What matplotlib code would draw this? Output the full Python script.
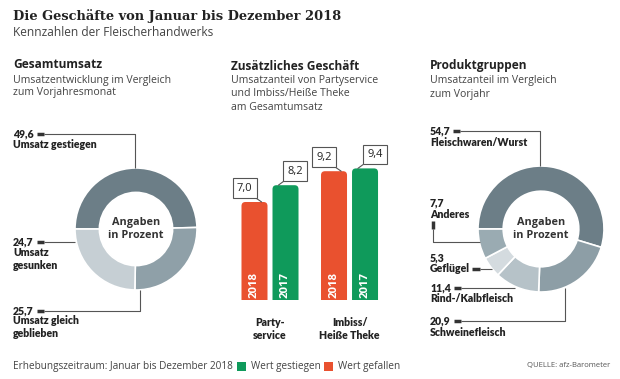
import matplotlib
matplotlib.use("Agg")
import matplotlib.pyplot as plt
from matplotlib.patches import FancyBboxPatch, Rectangle
from matplotlib.lines import Line2D
import numpy as np

# Gesamtumsatz (Donut links)
umsatz_labels = ["Umsatz gestiegen", "Umsatz gleich\ngeblieben", "Umsatz\ngesunken"]
umsatz_values = [49.6, 25.7, 24.7]

# Zusätzliches Geschäft (Balken)
geschaeft_kategorien = ["Party-\nservice", "Imbiss/\nHeiße Theke"]
werte_2018 = [7.0, 9.2]
werte_2017 = [8.2, 9.4]

# Produktgruppen (Donut rechts)
produkt_labels = ["Fleischwaren/Wurst", "Schweinefleisch", "Rind-/Kalbfleisch", "Geflügel", "Anderes"]
produkt_values = [54.7, 20.9, 11.4, 5.3, 7.7]

RED = "#e9512f"
GREEN = "#0f9a5b"
DARK = "#222222"
GREY_TXT = "#444444"
LINE = "#555555"

W, H = 620, 379
SANS = "Open Sans"
LBL = "Lato"

fig = plt.figure(figsize=(W / 100, H / 100), dpi=100)
fig.patch.set_facecolor("white")


def fx(x):
    return x / W


def fy(y):
    return 1 - y / H


def txt(x, y, s, size=7, bold=False, color=DARK, ha="left", family=SANS, weight=None, **kw):
    fig.text(fx(x), fy(y), s, fontsize=size,
             fontweight=weight or ("bold" if bold else "normal"),
             color=color, ha=ha, va="center", family=family, **kw)


def lbl(x, y, s, **kw):
    txt(x, y, s, size=7.6, weight="heavy", family=LBL, **kw)


def line(xs, ys, lw=0.8, color=LINE):
    fig.add_artist(Line2D([fx(v) for v in xs], [fy(v) for v in ys], lw=lw, color=color,
                          solid_capstyle="butt"))


def fmt(v):
    return ("%.1f" % v).replace(".", ",")


# Titel
txt(13, 16, "Die Geschäfte von Januar bis Dezember 2018", size=9.4, bold=True, family="DejaVu Serif")
txt(13, 33, "Kennzahlen der Fleischerhandwerks", size=8.6, color=GREY_TXT)

# Abschnittsköpfe
txt(13, 65, "Gesamtumsatz", size=8.6, bold=True)
txt(13, 80, "Umsatzentwicklung im Vergleich", size=7.6, color=GREY_TXT)
txt(13, 93, "zum Vorjahresmonat", size=7.6, color=GREY_TXT)

txt(231, 66, "Zusätzliches Geschäft", size=8.6, bold=True)
txt(231, 81, "Umsatzanteil von Partyservice", size=7.6, color=GREY_TXT)
txt(231, 94, "und Imbiss/Heiße Theke", size=7.6, color=GREY_TXT)
txt(231, 107, "am Gesamtumsatz", size=7.6, color=GREY_TXT)

txt(430, 66, "Produktgruppen", size=8.6, bold=True)
txt(430, 81, "Umsatzanteil im Vergleich", size=7.6, color=GREY_TXT)
txt(430, 94, "zum Vorjahr", size=7.6, color=GREY_TXT)


def donut(cx, cy, r, values, colors):
    ax = fig.add_axes([fx(cx - r), fy(cy + r), 2 * r / W, 2 * r / H])
    ax.pie(values, colors=colors, startangle=180, counterclock=False,
           wedgeprops=dict(width=0.4, edgecolor="white", linewidth=1.2))
    ax.set_xlim(-1, 1)
    ax.set_ylim(-1, 1)
    ax.set_aspect("equal")
    ax.axis("off")
    ax.text(0, 0, "Angaben\nin Prozent", ha="center", va="center", fontsize=7.8,
            fontweight="bold", color="#333333", family=SANS, linespacing=1.3)


# Donut links
donut(136, 229, 61, umsatz_values, ["#6c7e87", "#8fa0a8", "#c6cfd4"])

lbl(13, 134, fmt(umsatz_values[0]))
line([37, 44], [134, 134], lw=2.5, color="#333333")
line([44, 135, 135], [134, 134, 168])
lbl(13, 145, umsatz_labels[0])

lbl(13, 242, fmt(umsatz_values[2]))
line([37, 44], [242, 242], lw=2.5, color="#333333")
line([44, 75], [242, 242])
lbl(13, 259, umsatz_labels[2], linespacing=1.2)

lbl(13, 311, fmt(umsatz_values[1]))
line([37, 44], [311, 311], lw=2.5, color="#333333")
line([44, 140, 140], [311, 311, 290])
lbl(13, 327, umsatz_labels[1], linespacing=1.2)

# Balken Mitte
bx = fig.add_axes([fx(230), fy(300), 160 / W, 140 / H])
x = np.arange(len(geschaeft_kategorien))
off, bw = 0.195, 0.327
bx.set_xlim(-0.503, 1.509)
bx.set_ylim(0, 10)
bx.axis("off")
asp = (1 / 14) / (1 / 79.5)
for xi, v18, v17 in zip(x, werte_2018, werte_2017):
    for pos, v, c, yr, side in [(xi - off, v18, RED, "2018", -1), (xi + off, v17, GREEN, "2017", 1)]:
        p = FancyBboxPatch((pos - bw / 2, -1), bw, v + 1,
                           boxstyle="round,pad=0,rounding_size=0.05", mutation_aspect=asp,
                           fc=c, ec="none", clip_on=True)
        bx.add_patch(p)
        bx.text(pos, 0.15, yr, rotation=90, ha="center", va="bottom", color="white",
                fontsize=8.2, fontweight="bold", family=SANS)
        bx.annotate(fmt(v), xy=(pos - side * 0.09, v), xytext=(side * 17, 14),
                    textcoords="offset pixels", ha="center", va="center", fontsize=8,
                    color=DARK, family=SANS, annotation_clip=False,
                    bbox=dict(boxstyle="square,pad=0.38", fc="white", ec="#555555", lw=0.8),
                    arrowprops=dict(arrowstyle="-", color="#555555", lw=0.8,
                                    shrinkA=0, shrinkB=0,
                                    relpos=(0.8 if side < 0 else 0.15, 0)))

for xi, cat in zip(x, geschaeft_kategorien):
    bx.text(xi, -1.2, cat, ha="center", va="top", fontsize=7.6, fontweight="heavy",
            color=DARK, family=LBL, linespacing=1.2)

# Donut rechts
donut(541, 229, 63, produkt_values, ["#6c7e87", "#8d9ea6", "#b6c2c8", "#d4dbdf", "#9aabb2"])

lbl(430, 131, fmt(produkt_values[0]))
line([453, 460], [131, 131], lw=2.5, color="#333333")
line([460, 540, 540], [131, 131, 166])
lbl(430, 143, produkt_labels[0])

lbl(430, 203, fmt(produkt_values[4]))
lbl(430, 214, produkt_labels[4])
line([433, 433], [221, 229], lw=2.5, color="#333333")
line([433, 433, 480], [229, 242, 242])

lbl(430, 258, fmt(produkt_values[3]))
lbl(430, 269, produkt_labels[3])
line([472, 480], [269, 269], lw=2.5, color="#333333")
line([480, 492], [269, 269])

lbl(430, 288, fmt(produkt_values[2]))
line([454, 461], [288, 288], lw=2.5, color="#333333")
line([461, 515], [288, 288])
lbl(430, 299, produkt_labels[2])

lbl(430, 321, fmt(produkt_values[1]))
line([454, 461], [321, 321], lw=2.5, color="#333333")
line([461, 565, 565], [321, 321, 288])
lbl(430, 333, produkt_labels[1])

# Fußzeile
txt(13, 366, "Erhebungszeitraum: Januar bis Dezember 2018", size=7.2, color=GREY_TXT)
fig.add_artist(Rectangle((fx(237), fy(371)), 9 / W, 9 / H, fc=GREEN, ec="none"))
txt(251, 366, "Wert gestiegen", size=7.2, color=GREY_TXT)
fig.add_artist(Rectangle((fx(324), fy(371)), 9 / W, 9 / H, fc=RED, ec="none"))
txt(338, 366, "Wert gefallen", size=7.2, color=GREY_TXT)
txt(610, 366, "QUELLE: afz-Barometer", size=5.5, color="#555555", ha="right")

fig.savefig("out.png", dpi=100)
